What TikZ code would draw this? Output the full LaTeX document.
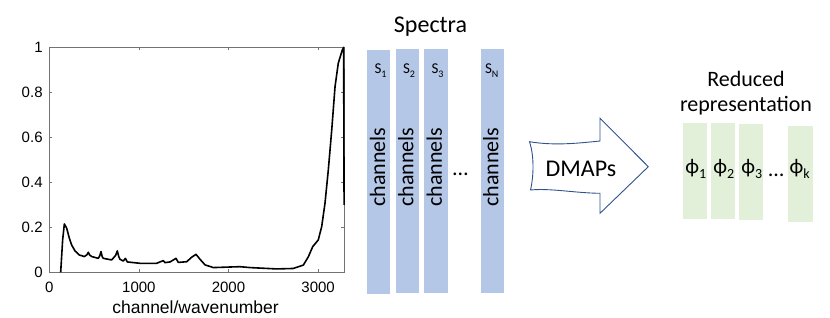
\documentclass[tikz,border=0pt]{standalone}
\usepackage{fontspec}
\setmainfont{Carlito}
\newfontfamily\plotfont{Liberation Sans}
\definecolor{specblue}{HTML}{B4C7E7}
\definecolor{redgreen}{HTML}{E2F0D9}
\definecolor{arrowblue}{HTML}{2F528F}
\newcommand{\fs}[1]{\fontsize{#1}{#1}\selectfont}
\newcommand{\subsc}[2]{\raisebox{-0.22em}{\fontsize{#1}{#1}\selectfont #2}}
\begin{document}
\begin{tikzpicture}[x=1pt,y=-1pt,
  speccol/.style={fill=specblue, draw=none, minimum width=23pt, minimum height=244pt, inner sep=0pt},
  redcol/.style={fill=redgreen, draw=none, minimum width=24pt, minimum height=96pt, inner sep=0pt},
  chanlabel/.style={rotate=90, font=\fs{22}, inner sep=0pt},
  slabel/.style={font=\fs{15}, anchor=base, inner sep=0pt},
  philabel/.style={font=\fs{21}, anchor=base, inner sep=0pt},
  ticklab/.style={font=\plotfont\fs{15}, inner sep=0pt},
  axisline/.style={draw=black!55, line width=0.6pt},
  titletext/.style={font=\fs{24}, anchor=base, inner sep=0pt},
]
\useasboundingbox (0,0) rectangle (830,318);

% ---------- plot ----------
\begin{scope}[shift={(49.3pt,-272.3pt)}, x=0.0896pt, y=225pt]
  \draw[axisline] (0,0) rectangle (3292,1);
  \foreach \v in {0,1000,2000,3000} {
    \draw[axisline] (\v,0) -- ++(0pt,3pt);
    \draw[axisline] (\v,1) -- ++(0pt,-3pt);
    \node[ticklab, anchor=base] (xt\v) at ([yshift=-20pt]\v,0) {\v};
  }
  \foreach \y/\t [count=\i] in {0/0,0.2/0.2,0.4/0.4,0.6/0.6,0.8/0.8,1/1} {
    \draw[axisline] (0,\y) -- ++(3pt,0pt);
    \draw[axisline] (3292,\y) -- ++(-3pt,0pt);
    \node[ticklab, anchor=base east] (yt\i) at ([xshift=-6.5pt,yshift=-5.4pt]0,\y) {\t};
  }
  \draw[line width=1.6pt, line join=round] plot coordinates {
    (127,0) (149,0.144) (168,0.215) (194,0.196) (224,0.151) (250,0.121)
    (287,0.095) (335,0.077) (391,0.070) (420,0.078) (436,0.089) (450,0.077)
    (473,0.070) (547,0.062) (565,0.075) (577,0.092) (590,0.070) (603,0.062)
    (696,0.055) (740,0.075) (759,0.095) (775,0.070) (789,0.058) (826,0.050)
    (849,0.062) (871,0.046) (1012,0.040) (1198,0.040) (1272,0.052) (1291,0.043)
    (1347,0.046) (1414,0.062) (1440,0.044) (1533,0.047) (1589,0.067) (1637,0.080)
    (1682,0.058) (1738,0.033) (1831,0.021) (2128,0.025) (2240,0.021) (2538,0.015)
    (2723,0.017) (2835,0.032) (2891,0.069) (2940,0.114) (3002,0.144) (3040,0.203)
    (3077,0.307) (3114,0.455) (3152,0.632) (3189,0.825) (3225,0.929) (3270,0.988)
    (3285,1.0) (3290,0.3)};
\end{scope}
\node[font=\plotfont\fs{17.5}, anchor=base, inner sep=0pt] (xlab) at (195.5,313.5) {channel/wavenumber};

% ---------- spectra ----------
\node[titletext] (spectra) at (430.5,32.7) {Spectra};
\node[speccol] (s1) at (378.8,172) {};
\node[speccol] (s2) at (407.5,171) {};
\node[speccol, minimum width=23.7pt] (s3) at (436.2,171) {};
\node[speccol] (sN) at (492.7,171) {};
\node[slabel] (s1lab) at (380.5,74) {S\subsc{10}{1}};
\node[slabel] (s2lab) at (409,74) {S\subsc{10}{2}};
\node[slabel] (s3lab) at (437.5,74) {S\subsc{10}{3}};
\node[slabel] (sNlab) at (491.7,74) {S\subsc{10}{N}};
\node[chanlabel] (c1) at (377.5,167.2) {channels};
\node[chanlabel] (c2) at (405.8,167.2) {channels};
\node[chanlabel] (c3) at (434.2,167.2) {channels};
\node[chanlabel] (cN) at (490.8,167.2) {channels};
\node[font=\fs{22}, anchor=base, inner sep=0pt] (sdots) at (460.5,175.5) {…};

% ---------- arrow ----------
\draw[arrowblue, line width=0.9pt, fill=white, line join=miter]
  (529.5,141.7) .. controls (555,146) and (580,143) .. (600,141)
  -- (600,118.3) -- (648.3,166.7) -- (600,213.3) -- (600,193.3)
  .. controls (575,193) and (550,188) .. (530.5,190)
  .. controls (534,175) and (534,155) .. (529.5,141.7) -- cycle;
\node[titletext] (dmaps) at (581,176) {DMAPs};

% ---------- reduced representation ----------
\node[font=\fontsize{22}{25}\selectfont, align=center, anchor=base, inner sep=0pt] (redtitle) at (746,111.7) {Reduced\\representation};
\node[redcol] (p1) at (694.7,171) {};
\node[redcol] (p2) at (723,171) {};
\node[redcol, minimum width=24.3pt] (p3) at (751.2,172) {};
\node[redcol, minimum width=24.4pt] (pk) at (800.5,173.7) {};
\node[philabel] (phi1) at (695.8,174) {ϕ\subsc{14}{1}};
\node[philabel] (phi2) at (723.8,174) {ϕ\subsc{14}{2}};
\node[philabel] (phi3) at (751.7,174) {ϕ\subsc{14}{3}};
\node[philabel] (phik) at (799.7,174) {ϕ\subsc{14}{k}};
\node[font=\fs{22}, anchor=base, inner sep=0pt] (gdots) at (776.3,176.5) {…};
\end{tikzpicture}
\end{document}
